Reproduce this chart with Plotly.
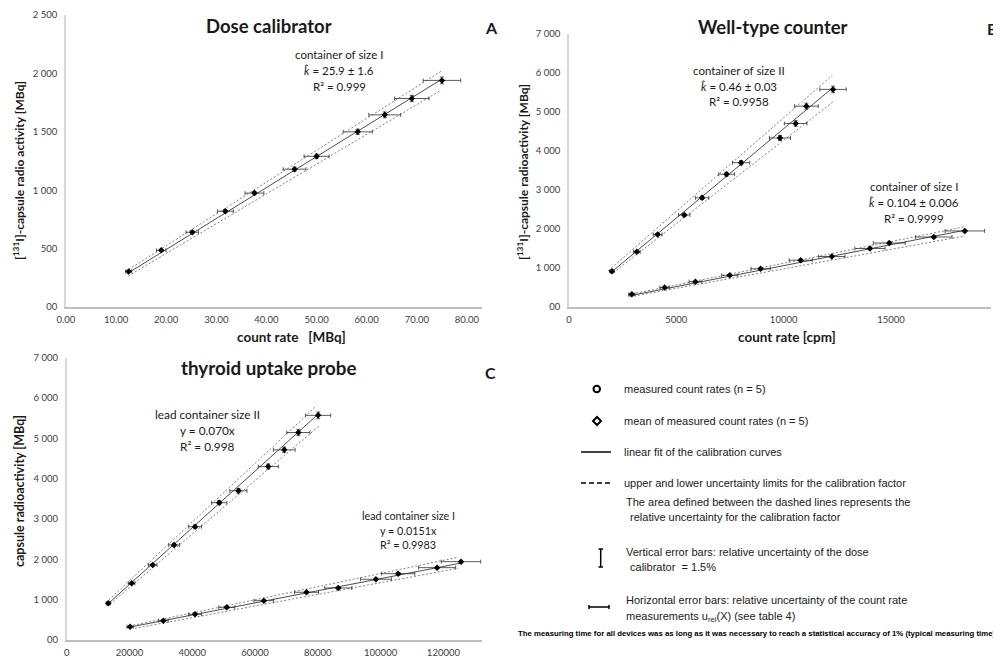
import plotly.graph_objects as go

W, H = 1001, 658
OFF = 8  # page body margin of the browser: shift everything so it lands where wanted

# ---------------- data ----------------
# Panel A: dose calibrator, container of size I
a_x = [12.5, 19.0, 25.2, 31.8, 37.6, 45.6, 50.0, 58.2, 63.6, 69.0, 75.0]
a_y = [305, 485, 640, 820, 975, 1180, 1290, 1500, 1645, 1785, 1940]
a_fit_x = [12.1, 74.7]; a_fit_y = [283, 1943]
a_up_x = [11.8, 74.9]; a_up_y = [302, 2020]
a_lo_x = [12.4, 74.9]; a_lo_y = [265, 1858]

# Panel B: well-type counter
b2_x = [2000, 3160, 4130, 5370, 6200, 7340, 8020, 9830, 10560, 11060, 12300]
b2_y = [915, 1415, 1860, 2360, 2800, 3405, 3700, 4335, 4705, 5150, 5580]
b2_fit_x = [1910, 12312]; b2_fit_y = [864, 5632]
b2_up_x = [1832, 12266]; b2_up_y = [931, 5940]
b2_lo_x = [2065, 12312]; b2_lo_y = [880, 5265]

b1_x = [2930, 4455, 5890, 7490, 8925, 10795, 12245, 14020, 14920, 16995, 18440]
b1_y = [325, 500, 650, 812, 980, 1200, 1295, 1500, 1640, 1795, 1950]
b1_fit_x = [2764, 18494]; b1_fit_y = [282, 1974]
b1_up_x = [2764, 18447]; b1_up_y = [316, 2060]
b1_lo_x = [2842, 18447]; b1_lo_y = [264, 1821]

# Panel C: thyroid uptake probe
c2_x = [13250, 20700, 27400, 34200, 40900, 48600, 54700, 64200, 69300, 73800, 80100]
c2_y = [910, 1405, 1860, 2357, 2810, 3405, 3700, 4300, 4715, 5145, 5570]
c2_fit_x = [12740, 80450]; c2_fit_y = [868, 5625]
c2_up_x = [12500, 79600]; c2_up_y = [926, 5806]
c2_lo_x = [13800, 80450]; c2_lo_y = [893, 5310]

c1_x = [20200, 30800, 40900, 51000, 62800, 76400, 86500, 98500, 105600, 118000, 125600]
c1_y = [330, 479, 637, 811, 975, 1183, 1290, 1506, 1645, 1794, 1943]
c1_fit_x = [19100, 125300]; c1_fit_y = [305, 1903]
c1_up_x = [20000, 124700]; c1_up_y = [345, 2052]
c1_lo_x = [21700, 124700]; c1_lo_y = [289, 1779]

x_err_pct = 5.0     # horizontal error bars (relative uncertainty of count rate)
y_err_pct = 1.5     # vertical error bars (dose calibrator uncertainty)

a_xticks = [0, 10, 20, 30, 40, 50, 60, 70, 80]
a_xtext = ["0.00", "10.00", "20.00", "30.00", "40.00", "50.00", "60.00", "70.00", "80.00"]
a_yticks = [0, 500, 1000, 1500, 2000, 2500]
a_ytext = ["00", "500", "1 000", "1 500", "2 000", "2 500"]
b_xticks = [0, 5000, 10000, 15000]
b_xtext = ["0", "5000", "10000", "15000"]
bc_yticks = [0, 1000, 2000, 3000, 4000, 5000, 6000, 7000]
bc_ytext = ["00", "1 000", "2 000", "3 000", "4 000", "5 000", "6 000", "7 000"]
c_xticks = [0, 20000, 40000, 60000, 80000, 100000, 120000]
c_xtext = ["0", "20000", "40000", "60000", "80000", "100000", "120000"]


def px(x):
    return (x - OFF) / W


def py(y):
    return 1 - (y - OFF) / H


fig = go.Figure()

DASH = dict(color="#808080", width=1, dash="2px,2px")
FIT = dict(color="#4d4d4d", width=1)


def add_series(xs, ys, fx, fy, ux, uy, lx, ly, xa, ya):
    fig.add_trace(go.Scatter(x=ux, y=uy, mode="lines", line=DASH, xaxis=xa, yaxis=ya, showlegend=False, hoverinfo="skip"))
    fig.add_trace(go.Scatter(x=lx, y=ly, mode="lines", line=DASH, xaxis=xa, yaxis=ya, showlegend=False, hoverinfo="skip"))
    fig.add_trace(go.Scatter(x=fx, y=fy, mode="lines", line=FIT, xaxis=xa, yaxis=ya, showlegend=False, hoverinfo="skip"))
    fig.add_trace(go.Scatter(
        x=xs, y=ys, mode="markers", xaxis=xa, yaxis=ya, showlegend=False,
        marker=dict(symbol="diamond", size=5, color="black"),
        error_x=dict(type="percent", value=x_err_pct, color="#333333", thickness=0.8, width=2),
        error_y=dict(type="percent", value=y_err_pct, color="#333333", thickness=0.8, width=2),
    ))


add_series(a_x, a_y, a_fit_x, a_fit_y, a_up_x, a_up_y, a_lo_x, a_lo_y, "x", "y")
add_series(b2_x, b2_y, b2_fit_x, b2_fit_y, b2_up_x, b2_up_y, b2_lo_x, b2_lo_y, "x2", "y2")
add_series(b1_x, b1_y, b1_fit_x, b1_fit_y, b1_up_x, b1_up_y, b1_lo_x, b1_lo_y, "x2", "y2")
add_series(c2_x, c2_y, c2_fit_x, c2_fit_y, c2_up_x, c2_up_y, c2_lo_x, c2_lo_y, "x3", "y3")
add_series(c1_x, c1_y, c1_fit_x, c1_fit_y, c1_up_x, c1_up_y, c1_lo_x, c1_lo_y, "x3", "y3")

TICKFONT = dict(family="Lato, Open Sans, sans-serif", size=9.5, color="#404040")


def xax(dom, rng, tv, tt, anchor):
    return dict(domain=dom, range=rng, tickvals=tv, ticktext=tt, showgrid=False, zeroline=False,
                showline=True, linecolor="#bfbfbf", linewidth=1.5, ticks="", tickfont=TICKFONT,
                anchor=anchor, fixedrange=True, automargin=False, ticklabelstandoff=3)


def yax(dom, rng, tv, tt, anchor):
    return dict(domain=dom, range=rng, tickvals=tv, ticktext=tt, showgrid=False, zeroline=False,
                showline=True, linecolor="#d9d9d9", linewidth=1.5, ticks="outside", ticklen=5,
                tickcolor="rgba(0,0,0,0)", tickfont=TICKFONT,
                anchor=anchor, fixedrange=True, automargin=False)


fig.update_layout(
    width=W, height=H, margin=dict(l=0, r=0, t=0, b=0, autoexpand=False),
    paper_bgcolor="white", plot_bgcolor="white",
    xaxis=xax([px(66), px(482)], [0, 83], a_xticks, a_xtext, "y"),
    yaxis=yax([py(307), py(15)], [0, 2500], a_yticks, a_ytext, "x"),
    xaxis2=xax([px(569), px(991)], [0, 19660], b_xticks, b_xtext, "y2"),
    yaxis2=yax([py(307), py(34)], [0, 7000], bc_yticks, bc_ytext, "x2"),
    xaxis3=xax([px(66.7), px(481.7)], [0, 132200], c_xticks, c_xtext, "y3"),
    yaxis3=yax([py(640), py(357.7)], [0, 7000], bc_yticks, bc_ytext, "x3"),
)

ann = []
CAL = "Lato, Open Sans, sans-serif"


def text(x, y, s, size, bold=False, family=CAL, color="#1a1a1a", xanchor="center", angle=0):
    ann.append(dict(x=px(x), y=py(y), xref="paper", yref="paper", text=("<b>%s</b>" % s) if bold else s,
                    showarrow=False, xanchor=xanchor, yanchor="middle", textangle=angle,
                    font=dict(family=family, size=size, color=color)))


# panel titles
text(269, 26, "Dose calibrator", 18.5, bold=True)
text(491, 27, "A", 16, bold=True)
text(773, 27, "Well-type counter", 18.5, bold=True)
text(1000, 29, "B", 16, bold=True, xanchor="right")
text(268, 367, "thyroid uptake probe", 18.8, bold=True)
text(490, 372, "C", 16, bold=True)

# axis titles
text(291, 337, "count rate   [MBq]", 13.5, bold=True)
text(787, 337, "count rate [cpm]", 13.5, bold=True)
text(19, 171, "[<sup>131</sup>I]-capsule radio activity [MBq]", 12, bold=True, angle=-90)
text(523, 172, "[<sup>131</sup>I]-capsule radioactivity [MBq]", 12, bold=True, angle=-90)
text(19, 491, "capsule radioactivity [MBq]", 12.5, bold=True, angle=-90)

# fit annotations
for (cx, ys, lines, sz) in [
    (339, [55, 71, 86], ["container of size I", "<i>k\u0302</i> = 25.9 ± 1.6", "R² = 0.999"], 11.5),
    (739, [71, 86, 101], ["container of size II", "<i>k\u0302</i> = 0.46 ± 0.03", "R² = 0.9958"], 11.5),
    (914, [187, 203, 218], ["container of size I", "<i>k\u0302</i> = 0.104 ± 0.006", "R² = 0.9999"], 11.5),
    (207, [414, 430, 446], ["lead container size II", "y = 0.070x", "R² = 0.998"], 11.8),
    (408, [515, 530, 544], ["lead container size I", "y = 0.0151x", "R² = 0.9983"], 10.8),
]:
    for yy, s in zip(ys, lines):
        text(cx, yy, s, sz)

# legend panel (drawn with shapes and text)
LEG = "Liberation Sans Narrow, Arial Narrow, Liberation Sans, Arial, sans-serif"
LS = 11
lx = 622
text(lx, 389, "measured count rates (n = 5)", LS, family=LEG, xanchor="left")
text(lx, 421, "mean of measured count rates (n = 5)", LS, family=LEG, xanchor="left")
text(lx, 452, "linear fit of the calibration curves", LS, family=LEG, xanchor="left")
text(lx, 483, "upper and lower uncertainty limits for the calibration factor", LS, family=LEG, xanchor="left")
text(624, 502, "The area defined between the dashed lines represents the", LS, family=LEG, xanchor="left")
text(625, 517, " relative uncertainty for the calibration factor", LS, family=LEG, xanchor="left")
text(624, 552, "Vertical error bars: relative uncertainty of the dose", LS, family=LEG, xanchor="left")
text(625, 567, " calibrator  = 1.5%", LS, family=LEG, xanchor="left")
text(624, 600, "Horizontal error bars: relative uncertainty of the count rate", LS, family=LEG, xanchor="left")
text(624, 617, "measurements u<sub>rel</sub>(X) (see table 4)", LS, family=LEG, xanchor="left")
text(757, 633, "The measuring time for all devices was as long as it was necessary to reach a statistical accuracy of 1% (typical measuring time)",
     7.8, bold=True, family=LEG, color="#000000")

shapes = []
# circle
shapes.append(dict(type="circle", xref="paper", yref="paper", x0=px(593.5), x1=px(600), y0=py(392.3), y1=py(385.8),
                   line=dict(color="black", width=2)))
# diamond
cxd, cyd, r = 597, 421, 4
shapes.append(dict(type="path", xref="paper", yref="paper",
                   path="M %f %f L %f %f L %f %f L %f %f Z" % (px(cxd), py(cyd - r), px(cxd + r), py(cyd),
                                                               px(cxd), py(cyd + r), px(cxd - r), py(cyd)),
                   line=dict(color="black", width=2)))
# solid line
shapes.append(dict(type="line", xref="paper", yref="paper", x0=px(581), x1=px(611), y0=py(452), y1=py(452),
                   line=dict(color="black", width=1.5)))
# dashed line
shapes.append(dict(type="line", xref="paper", yref="paper", x0=px(581), x1=px(611), y0=py(483), y1=py(483),
                   line=dict(color="black", width=1.5, dash="5px,3px")))
# vertical I bar
shapes.append(dict(type="line", xref="paper", yref="paper", x0=px(600.7), x1=px(600.7), y0=py(549), y1=py(567),
                   line=dict(color="black", width=1.5)))
for yy in (549, 567):
    shapes.append(dict(type="line", xref="paper", yref="paper", x0=px(598.5), x1=px(603), y0=py(yy), y1=py(yy),
                       line=dict(color="black", width=1.5)))
# horizontal bar
shapes.append(dict(type="line", xref="paper", yref="paper", x0=px(589), x1=px(609), y0=py(607), y1=py(607),
                   line=dict(color="black", width=1.5)))
for xx in (589, 609):
    shapes.append(dict(type="line", xref="paper", yref="paper", x0=px(xx), x1=px(xx), y0=py(605), y1=py(609),
                       line=dict(color="black", width=1.5)))

fig.update_layout(annotations=ann, shapes=shapes)
fig.write_html("out.html")
